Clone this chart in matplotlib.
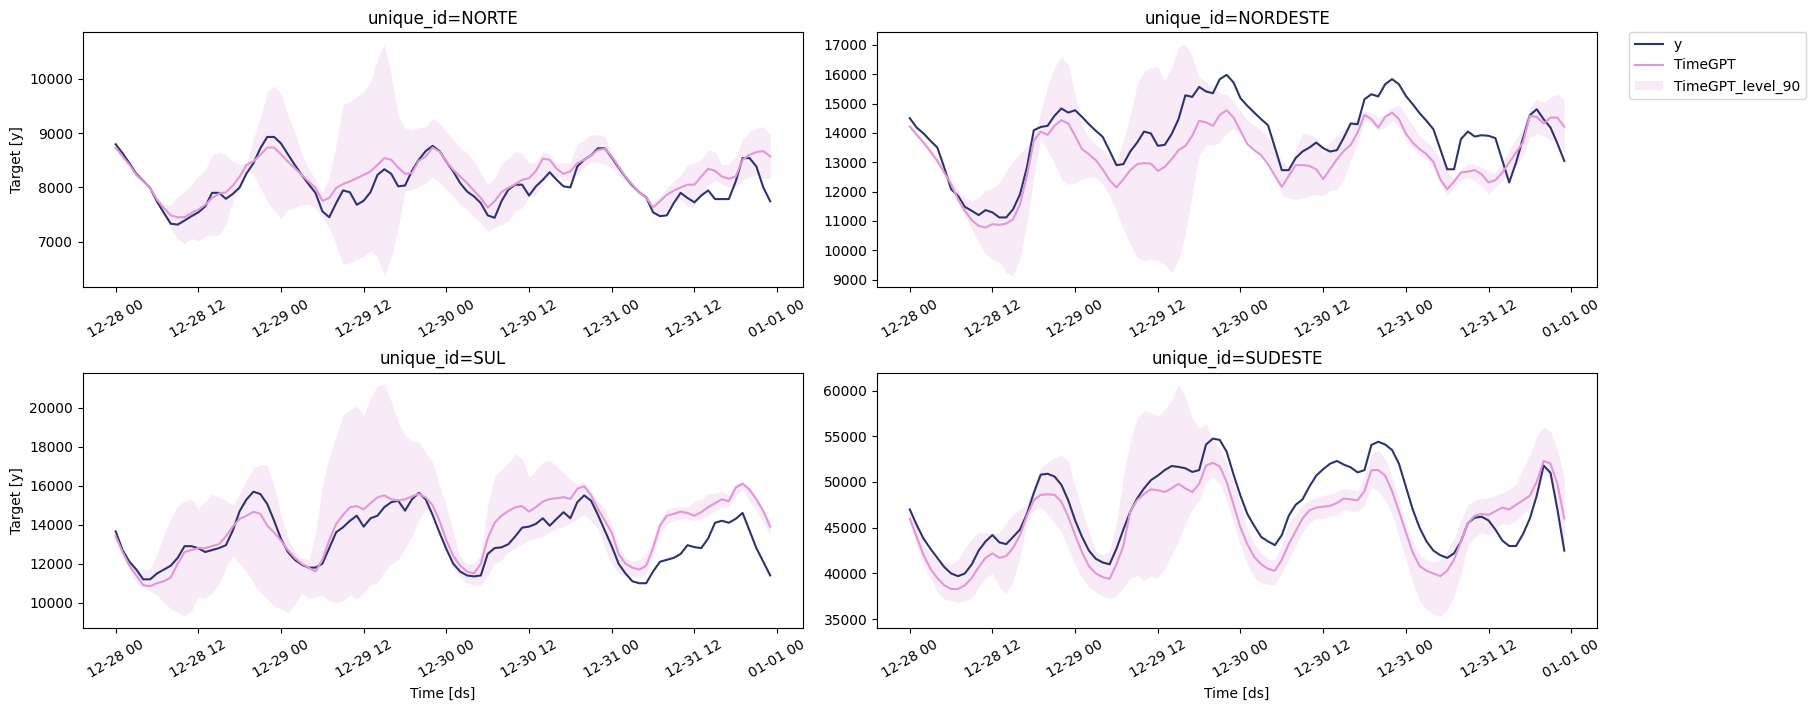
import matplotlib
matplotlib.use("Agg")
import matplotlib.pyplot as plt
import matplotlib.dates as mdates
import pandas as pd

# hourly timestamps, 4 days
ds = pd.date_range("2023-12-28 00:00", periods=96, freq="h")

regions = ["NORTE", "NORDESTE", "SUL", "SUDESTE"]

norte_y = [8795, 8630, 8446, 8250, 8120, 7990, 7740, 7530, 7330, 7315,
           7390, 7470, 7540, 7650, 7900, 7900, 7790, 7880, 8000, 8260,
           8445, 8720, 8930, 8930, 8810, 8610, 8415, 8230, 8060, 7900,
           7560, 7450, 7710, 7945, 7910, 7680, 7755, 7915, 8230, 8335,
           8250, 8020, 8035, 8305, 8510, 8670, 8765, 8670, 8475, 8295,
           8080, 7925, 7835, 7710, 7485, 7440, 7745, 7960, 8050, 8050,
           7850, 8020, 8140, 8280, 8140, 8020, 8000, 8385, 8510, 8590,
           8720, 8720, 8550, 8365, 8190, 8035, 7910, 7820, 7540, 7470,
           7485, 7710, 7900, 7805, 7725, 7850, 7945, 7785, 7785, 7785,
           8110, 8540, 8540, 8385, 8000, 7745]
norte_fc = [8735, 8570, 8415, 8230, 8110, 7990, 7775, 7620, 7485, 7450,
            7450, 7530, 7590, 7680, 7805, 7885, 7910, 8035, 8200, 8415,
            8480, 8600, 8735, 8735, 8610, 8475, 8355, 8230, 8110, 7990,
            7755, 7805, 7990, 8060, 8110, 8170, 8230, 8295, 8415, 8540,
            8510, 8365, 8250, 8265, 8490, 8570, 8735, 8660, 8475, 8325,
            8200, 8080, 7940, 7805, 7630, 7745, 7915, 7990, 8060, 8140,
            8170, 8305, 8530, 8510, 8345, 8250, 8295, 8445, 8510, 8590,
            8690, 8710, 8570, 8385, 8200, 8050, 7910, 7815, 7630, 7745,
            7865, 7940, 8000, 8050, 8050, 8200, 8345, 8305, 8200, 8160,
            8200, 8510, 8600, 8650, 8670, 8570]
norte_lo = [8710, 8540, 8385, 8200, 8080, 7960, 7710, 7500, 7250, 7040,
            6960, 7060, 7020, 7100, 7120, 7120, 7315, 7745, 7950, 8370,
            8230, 7990, 7745, 7570, 7425, 7590, 7620, 7680, 7695, 7620,
            7440, 7250, 6950, 6580, 6610, 6670, 6730, 6830, 6730, 6370,
            6700, 7250, 7930, 7960, 8020, 8080, 8180, 8090, 7960, 7835,
            7680, 7590, 7450, 7345, 7190, 7265, 7315, 7375, 7570, 7620,
            7835, 7865, 8080, 8200, 8200, 8140, 8120, 8230, 8370, 8480,
            8460, 8420, 8355, 8230, 8100, 7990, 7865, 7805, 7530, 7470,
            7590, 7745, 7775, 7650, 7650, 7865, 8050, 8140, 8050, 8000,
            8020, 8140, 8200, 8230, 8170, 8160]
norte_hi = [8750, 8600, 8450, 8260, 8140, 8000, 7800, 7690, 7680, 7830,
            7930, 8050, 8200, 8320, 8600, 8650, 8600, 8480, 8420, 8450,
            8905, 9270, 9760, 9870, 9730, 9330, 9030, 8630, 8355, 8140,
            7900, 8200, 8780, 9520, 9580, 9670, 9760, 9945, 10370, 10650,
            10070, 9330, 9090, 9060, 9100, 9120, 9270, 9180, 9030, 8875,
            8730, 8630, 8480, 8260, 8050, 8170, 8450, 8540, 8660, 8630,
            8450, 8480, 8660, 8610, 8450, 8450, 8450, 8810, 8875, 8970,
            8970, 8935, 8630, 8450, 8230, 8080, 7930, 7865, 7710, 7830,
            7990, 8110, 8230, 8420, 8450, 8510, 8690, 8660, 8420, 8430,
            8570, 8875, 9030, 9090, 9120, 8980]

nordeste_y = [14500, 14180, 13980, 13730, 13500, 12820, 12080, 11855, 11480, 11345,
              11200, 11370, 11290, 11120, 11120, 11400, 11910, 12820, 14090, 14200,
              14240, 14580, 14830, 14690, 14770, 14545, 14295, 14070, 13865, 13390,
              12900, 12935, 13365, 13670, 14045, 13980, 13560, 13590, 13955, 14465,
              15280, 15225, 15565, 15410, 15350, 15830, 15975, 15715, 15180, 14920,
              14690, 14465, 14260, 13500, 12730, 12730, 13140, 13365, 13500, 13670,
              13480, 13365, 13410, 13840, 14320, 14295, 15145, 15315, 15240, 15655,
              15830, 15655, 15260, 14975, 14670, 14410, 14125, 13445, 12760, 12760,
              13785, 14045, 13875, 13920, 13900, 13820, 13070, 12310, 12990, 13810,
              14600, 14805, 14465, 14180, 13640, 13045]
nordeste_fc = [14215, 13930, 13670, 13365, 13045, 12650, 12250, 11740, 11345, 11025,
               10830, 10775, 10890, 10865, 10910, 11060, 11570, 12535, 13730, 14045,
               13930, 14240, 14430, 14320, 13900, 13445, 13275, 13070, 12760, 12390,
               12140, 12420, 12730, 12935, 12970, 12955, 12705, 12840, 13100, 13410,
               13555, 13900, 14410, 14355, 14240, 14615, 14770, 14520, 14070, 13615,
               13410, 13240, 12935, 12535, 12160, 12535, 12900, 12900, 12875, 12760,
               12420, 12760, 13100, 13385, 13590, 14010, 14615, 14465, 14180, 14545,
               14690, 14465, 13980, 13670, 13445, 13275, 13010, 12420, 12080, 12340,
               12650, 12680, 12730, 12590, 12310, 12390, 12650, 12990, 13330, 13670,
               14580, 14545, 14320, 14520, 14520, 14205]
nordeste_lo = [14180, 13900, 13615, 13295, 12955, 12570, 12140, 11630, 11175, 10720,
               10265, 9870, 9700, 9585, 9245, 9130, 9755, 10890, 12480, 13785,
               13385, 12990, 12420, 12250, 12285, 12420, 12500, 12480, 12250, 11855,
               11345, 10720, 10210, 9755, 9640, 9700, 9640, 9505, 9265, 9640,
               10550, 11910, 13215, 13590, 13590, 13670, 14010, 14160, 13955, 13670,
               13480, 13295, 13045, 12595, 11890, 11775, 11740, 11775, 11855, 11910,
               11855, 12050, 12050, 12420, 13045, 13615, 14465, 14295, 14090, 14180,
               14410, 14240, 13785, 13500, 13275, 13105, 12820, 12250, 11855, 12140,
               12420, 12480, 12345, 12195, 11910, 12160, 12365, 12595, 12875, 13215,
               13840, 13975, 13900, 13730, 13785, 13330]
nordeste_hi = [14295, 14010, 13750, 13480, 13140, 12760, 12390, 12025, 11800, 11685,
               11800, 12050, 12115, 12310, 12685, 13045, 13295, 13525, 13930, 14690,
               15600, 16225, 16590, 16340, 15315, 14240, 13840, 13615, 13410, 13185,
               13045, 13730, 14580, 15655, 16110, 16225, 16250, 15770, 16225, 16905,
               17040, 16590, 15905, 15750, 15545, 15340, 15315, 15065, 14750, 14430,
               14270, 14090, 13820, 13500, 13045, 12820, 13445, 13975, 13955, 13820,
               13295, 13705, 13900, 14125, 14295, 14500, 14750, 14690, 14520, 14615,
               14865, 14955, 14615, 14240, 13900, 13705, 13445, 13140, 12730, 12420,
               12760, 12935, 12935, 12820, 12685, 12650, 12990, 13410, 13785, 14180,
               14865, 15145, 15035, 15205, 15340, 15110]

sul_y = [13660, 12700, 12100, 11700, 11200, 11200, 11500, 11700, 11900, 12300,
         12900, 12900, 12790, 12600, 12700, 12800, 12950, 13700, 14700, 15300,
         15690, 15570, 15060, 14200, 13270, 12600, 12200, 11950, 11800, 11800,
         12000, 12800, 13610, 13870, 14200, 14460, 13900, 14330, 14460, 14900,
         15150, 15230, 14720, 15300, 15630, 15300, 14500, 13600, 12750, 12000,
         11600, 11400, 11350, 11400, 12500, 12800, 12840, 13000, 13400, 13850,
         13900, 14040, 14330, 13950, 14300, 14640, 14330, 15150, 15500, 15230,
         14500, 13700, 12900, 12000, 11500, 11100, 11000, 11000, 11600, 12100,
         12200, 12300, 12500, 12950, 12850, 12800, 13300, 14100, 14200, 14100,
         14300, 14600, 13700, 12800, 12100, 11400]
sul_fc = [13400, 12600, 11900, 11400, 10900, 10850, 11000, 11100, 11300, 12000,
          12600, 12700, 12800, 12800, 12900, 13000, 13400, 13900, 14300, 14460,
          14660, 14560, 13950, 13600, 13180, 12700, 12300, 12000, 11800, 11600,
          12200, 13200, 14040, 14500, 14890, 14950, 14790, 15100, 15400, 15500,
          15300, 15250, 15300, 15450, 15580, 15400, 15000, 14200, 13200, 12400,
          11900, 11600, 11500, 12000, 13300, 14100, 14460, 14700, 14890, 14950,
          14670, 14900, 15180, 15320, 15350, 15410, 15320, 15830, 15970, 15510,
          14800, 14200, 13600, 12500, 12000, 11800, 11700, 11900, 12800, 13950,
          14460, 14550, 14670, 14600, 14460, 14640, 14900, 15100, 15300, 15200,
          15900, 16100, 15800, 15300, 14700, 13900]
sul_lo = [13300, 12400, 11700, 11000, 10800, 10600, 10400, 10000, 9700, 9500,
          9300, 9600, 10300, 10200, 10500, 11000, 11800, 12400, 12000, 11600,
          11000, 10500, 10200, 9800, 9700, 9500, 9900, 10500, 10200, 10300,
          10400, 10100, 10000, 10100, 10400, 10200, 10500, 10900, 11000, 11600,
          12000, 12200, 12800, 13400, 14200, 14800, 14600, 13800, 12700, 11800,
          11300, 11000, 10900, 10900, 11400, 12000, 12200, 12600, 12800, 13000,
          13200, 13300, 13400, 13600, 13800, 13900, 14100, 14300, 14500, 14200,
          13800, 12800, 12000, 11500, 11400, 11400, 11300, 11500, 12400, 13500,
          14000, 14200, 14300, 14300, 14200, 14300, 14500, 14700, 14900, 14900,
          15500, 15800, 15200, 14700, 14100, 13500]
sul_hi = [13450, 12700, 12100, 11800, 11700, 11700, 12500, 13500, 14300, 15000,
          15200, 15320, 14860, 15200, 15570, 15400, 15250, 14970, 15600, 16300,
          16900, 17080, 17080, 16000, 14500, 13300, 12600, 12300, 12200, 13500,
          16000, 17500, 18570, 19600, 19900, 20070, 19600, 20500, 21130, 21200,
          20300, 19300, 18570, 18300, 18230, 17700, 17200, 16000, 14970, 13600,
          12400, 12000, 12000, 12500, 15000, 16500, 16850, 17200, 17620, 17400,
          16440, 16800, 17200, 17300, 17000, 16680, 16300, 16060, 16200, 15700,
          15200, 14800, 14000, 12900, 12300, 12100, 12200, 12500, 13300, 14200,
          14800, 14900, 14900, 14900, 15200, 15300, 15600, 15600, 15700, 15500,
          16100, 16200, 15900, 15400, 14800, 14200]

sudeste_y = [47000, 45300, 43800, 42700, 41700, 40700, 40000, 39700, 40000, 41000,
             42500, 43500, 44200, 43400, 43200, 44000, 44800, 46500, 48800, 50800,
             50900, 50600, 49700, 48000, 45800, 44000, 42500, 41600, 41200, 41000,
             42700, 44800, 46750, 48200, 49300, 50200, 50700, 51300, 51750, 51650,
             51500, 51100, 51300, 54100, 54750, 54600, 53300, 50800, 48500, 46500,
             45200, 44000, 43500, 43100, 44200, 46300, 47500, 48100, 49500, 50700,
             51400, 52000, 52300, 51900, 51600, 51050, 51300, 54050, 54400, 54100,
             53500, 52000, 49500, 47000, 45000, 43500, 42500, 42000, 41700, 42200,
             43500, 45500, 46100, 46200, 45800, 44800, 43600, 43000, 43000, 44300,
             46000, 48500, 51800, 51000, 47000, 42500]
sudeste_fc = [46000, 44000, 42000, 40500, 39500, 38700, 38300, 38300, 38700, 39500,
              40700, 41700, 42200, 41700, 41900, 42800, 44200, 46300, 48000, 48600,
              48650, 48600, 47850, 46200, 44200, 42300, 40800, 40000, 39600, 39400,
              41000, 43000, 46800, 48000, 48700, 49200, 49100, 48900, 49300, 49800,
              49300, 48900, 49800, 51800, 52100, 51700, 50000, 47500, 45000, 43200,
              41800, 41000, 40500, 40300, 41500, 43200, 44600, 46000, 46900, 47200,
              47300, 47400, 47700, 48200, 48100, 48000, 49000, 51300, 51300, 50700,
              49000, 46800, 44500, 42300, 40800, 40300, 40000, 39700, 40300, 41500,
              43500, 45500, 46300, 46500, 46400, 46800, 47200, 47000, 47500, 48000,
              48500, 50000, 52300, 52000, 49800, 46000]
sudeste_lo = [45500, 43000, 41000, 39500, 38000, 37200, 37000, 36800, 37000, 37300,
              38500, 39500, 40000, 38500, 37800, 39200, 41800, 45500, 47000, 47200,
              46500, 45500, 44500, 42800, 41000, 39500, 38500, 38000, 37500, 37200,
              37500, 38500, 39500, 39800, 39200, 39700, 39500, 40500, 42000, 43500,
              45500, 47000, 48000, 50000, 50500, 49800, 48000, 45500, 43000, 41000,
              39500, 39000, 38800, 38800, 40000, 41500, 43000, 44500, 45500, 46000,
              46000, 46200, 46400, 47000, 46800, 46800, 47500, 49500, 49000, 48000,
              46500, 44000, 41500, 39000, 37000, 36000, 35500, 35300, 36000, 37500,
              40000, 43000, 44000, 44500, 44200, 44800, 45500, 45300, 45800, 46500,
              47200, 48500, 51000, 50500, 47000, 41500]
sudeste_hi = [46500, 44800, 43200, 42000, 41500, 41200, 41000, 41500, 42800, 43800,
              44500, 44500, 44300, 44500, 45500, 46500, 47000, 47500, 49500, 51500,
              52200, 52600, 52950, 52230, 49500, 47000, 44500, 42500, 42000, 42500,
              45500, 50500, 54500, 57000, 57800, 57600, 57200, 57900, 59000, 60700,
              59200, 57000, 55900, 56400, 54600, 53700, 52000, 50000, 47500, 45000,
              43200, 42200, 41600, 41500, 43000, 45500, 46500, 47500, 48000, 48300,
              48500, 48700, 49000, 49300, 49200, 49000, 50500, 53000, 53500, 52500,
              50500, 48000, 45500, 43500, 42000, 41500, 41300, 41500, 42500, 43800,
              45800, 47500, 48000, 48200, 48300, 48500, 48800, 49200, 49800, 51500,
              53000, 55000, 56000, 55500, 53500, 50500]

series = {
    "NORTE": (norte_y, norte_fc, norte_lo, norte_hi),
    "NORDESTE": (nordeste_y, nordeste_fc, nordeste_lo, nordeste_hi),
    "SUL": (sul_y, sul_fc, sul_lo, sul_hi),
    "SUDESTE": (sudeste_y, sudeste_fc, sudeste_lo, sudeste_hi),
}

y_color = "#2e3370"
fc_color = "#e098d6"

fig, axes = plt.subplots(2, 2, figsize=(18.15, 7.11), dpi=100)
fig.subplots_adjust(left=0.0457, right=0.8799, top=0.955, bottom=0.1167,
                    wspace=0.103, hspace=0.333)

for ax, name in zip(axes.flat, regions):
    y, fc, lo, hi = series[name]
    ax.plot(ds, y, color=y_color, linewidth=1.5, label="y")
    ax.plot(ds, fc, color=fc_color, linewidth=1.5, label="TimeGPT")
    ax.fill_between(ds, lo, hi, color=fc_color, alpha=0.2, linewidth=0,
                    label="TimeGPT_level_90")
    ax.set_title(f"unique_id={name}", fontsize=12)
    ax.xaxis.set_major_locator(mdates.HourLocator(byhour=[0, 12]))
    ax.xaxis.set_major_formatter(mdates.DateFormatter("%m-%d %H"))
    for lbl in ax.get_xticklabels():
        lbl.set_rotation(30)

axes[0, 0].set_ylabel("Target [y]")
axes[1, 0].set_ylabel("Target [y]")
axes[1, 0].set_xlabel("Time [ds]")
axes[1, 1].set_xlabel("Time [ds]")

handles, labels = axes[0, 0].get_legend_handles_labels()
axes[0, 1].legend(handles, labels, loc="upper left",
                  bbox_to_anchor=(1.045, 1.0), borderaxespad=0)

fig.savefig("out.png", dpi=100)
